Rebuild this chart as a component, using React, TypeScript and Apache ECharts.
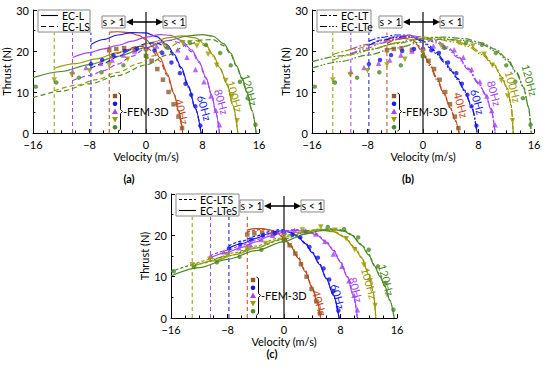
import React, { useEffect, useRef } from "react";
import * as echarts from "echarts";

// ---------- axes / categories ----------
const velocityTicks = [-16, -8, 0, 8, 16];
const thrustTicks = [0, 10, 20, 30];
const frequencies = ["40Hz", "60Hz", "80Hz", "100Hz", "120Hz"];
const syncSpeeds = [5.2, 7.8, 10.4, 13, 15.6];
const lineColors = ["#C4461C", "#1717E8", "#A445EE", "#9A9A00", "#4C8A28"];
const markerColors = ["#8E5A2A", "#1717E8", "#A445EE", "#9A9A00", "#4C8A28"];
const panelLetters = ["(a)", "(b)", "(c)"];
const legendNames = [["EC-L", "EC-LS"], ["EC-LT", "EC-LTe"], ["EC-LTS", "EC-LTeS"]];

// ---------- FEM-3D points (velocity m/s, thrust N) ----------
const fem40 = [[-5.2, 20.2], [-4.2, 20.5], [-3.1, 20.7], [-1.6, 20.3], [0, 18.8], [0.8, 17.6], [1.6, 15.6], [2.4, 13], [3.2, 10], [3.9, 7], [4.6, 4], [5.1, 1.2]];
const fem60 = [[-7.8, 16.8], [-6.2, 17.8], [-4.6, 19], [-3, 20], [-1.3, 20.5], [0, 20.5], [1.2, 20.2], [2.3, 19.5], [3.6, 17.2], [4.8, 14.6], [5.6, 12], [6.4, 9.3], [7, 6.5], [7.7, 1.8]];
const fem80 = [[-10.4, 15], [-8.5, 16], [-6.4, 17], [-4.8, 17.8], [-3.2, 19], [-1.6, 20], [0, 20.8], [1.5, 21.2], [3, 21.1], [4.5, 20.3], [5.8, 18.5], [7, 15.5], [8.2, 12.5], [9.2, 9], [9.9, 5.5], [10.4, 2]];
const fem100 = [[-13, 12.9], [-10.5, 14.2], [-8, 15.2], [-5.2, 16.6], [-2.6, 18], [0, 19.8], [2.6, 21.3], [5.2, 22], [7.2, 21.2], [8.8, 19.2], [10, 16.5], [11.3, 12.8], [12.2, 9], [12.9, 3]];
const fem120 = [[-15.6, 11.3], [-12.7, 12.3], [-9.5, 13.5], [-6.3, 14.8], [-3.2, 16.5], [0, 18.8], [3.1, 20.8], [6.2, 22], [8.5, 21.5], [10.5, 19.5], [12, 16.5], [13.3, 12.5], [14.4, 8.5], [15.5, 2]];

// ---------- (a) EC-L (solid) ----------
const aL40 = [[-5.2, 24.6], [-4, 24.7], [-2.5, 24.5], [-1, 23.8], [0, 22.8], [1, 21], [2, 18.3], [3, 14.5], [4, 9.5], [4.6, 5.5], [5.2, 0]];
const aL60 = [[-7.8, 21.6], [-6, 22.8], [-4, 23.9], [-2, 24.5], [0, 24.4], [1.5, 23.5], [3, 21.5], [4, 19.2], [5, 16], [6, 11.5], [7, 6], [7.8, 0]];
const aL80 = [[-10.4, 18.4], [-8, 19.6], [-6, 20.5], [-4, 21.4], [-2, 22.4], [0, 23.4], [2, 24], [3.5, 23.8], [5, 22.6], [6.5, 20.2], [7.5, 17.5], [8.5, 13.5], [9.3, 9.3], [9.9, 5], [10.4, 0]];
const aL100 = [[-13, 15.8], [-10, 16.9], [-7, 18.1], [-4, 19.6], [-1, 21.1], [1, 22.2], [3, 23.2], [5, 23.7], [7, 23.2], [8.5, 21.5], [9.5, 19], [10.5, 15.8], [11.5, 11.8], [12.3, 6.8], [13, 0]];
const aL120 = [[-16, 13.5], [-12, 15], [-8, 16.7], [-4, 18.7], [0, 20.8], [3, 22.5], [6, 23.7], [8, 24], [9.5, 23.6], [11, 21.8], [12, 19.5], [12.8, 16.5], [13.6, 13.3], [14.3, 10], [15, 5.5], [15.6, 0]];
// ---------- (a) EC-LS (dashed) ----------
const aLS40 = [[-5.2, 18.5], [-4, 19.4], [-3, 20.1], [-2, 20.8], [-1, 21.2], [0, 21], [1, 19.8], [2, 17.5], [3, 14], [4, 9.3], [4.6, 5.3], [5.2, 0]];
const aLS60 = [[-7.8, 15.8], [-6, 17], [-4, 18.6], [-2, 20.4], [0, 21.8], [1.5, 22], [3, 20.8], [4, 18.8], [5, 15.7], [6, 11.2], [7, 5.9], [7.8, 0]];
const aLS80 = [[-10.4, 12.8], [-8, 14], [-6, 15.2], [-4, 16.8], [-2, 18.7], [0, 20.7], [2, 22.2], [3.5, 22.6], [5, 21.9], [6.5, 19.8], [7.5, 17.2], [8.5, 13.3], [9.3, 9.2], [9.9, 5], [10.4, 0]];
const aLS100 = [[-13, 10.3], [-10, 11.6], [-7, 13], [-4, 14.8], [-1, 17], [1, 18.8], [3, 20.8], [5, 22.3], [7, 22.6], [8.5, 21.2], [9.5, 18.8], [10.5, 15.6], [11.5, 11.7], [12.3, 6.7], [13, 0]];
const aLS120 = [[-16, 8.6], [-12, 10.2], [-8, 12], [-4, 14], [0, 16.6], [3, 19], [6, 21.6], [8, 22.7], [9.5, 22.8], [11, 21.3], [12, 19.2], [12.8, 16.3], [13.6, 13.2], [14.3, 9.9], [15, 5.5], [15.6, 0]];

// ---------- (b) EC-LT (dash-dot) ----------
const bLT40 = [[-5.2, 22.7], [-4, 23.3], [-3, 23.6], [-2, 23.3], [-1, 22.1], [0, 19.8], [1, 16.8], [2, 13.4], [3, 9.8], [4, 6], [4.7, 3], [5.2, 0]];
const bLT60 = [[-7.8, 22.4], [-6, 23.3], [-4, 23.9], [-2, 23.9], [-1, 23.4], [0, 22.5], [1, 21.2], [2, 19.6], [3, 17.7], [4, 15.6], [5, 13.3], [6, 10.4], [7, 6.6], [7.8, 0]];
const bLT80 = [[-10.4, 20.4], [-8, 21.6], [-6, 22.7], [-4, 23.5], [-2, 23.8], [0, 23.4], [2, 22.4], [3.5, 21], [5, 18.8], [6.5, 15.8], [8, 12.3], [9, 9.5], [9.8, 6], [10.4, 0]];
const bLT100 = [[-13, 19.1], [-10, 20.4], [-7, 21.7], [-4, 22.8], [-1, 23.4], [2, 23.3], [4.5, 22.6], [6.5, 21.5], [8.5, 19.5], [10.3, 16.6], [11.4, 13.6], [12.2, 10.8], [12.7, 7], [13, 0]];
const bLT120 = [[-16, 17.4], [-12, 18.8], [-8, 20.2], [-4, 21.8], [0, 23], [3, 23.4], [6, 23], [8.5, 22], [10.5, 20.4], [12.2, 18], [13.5, 14.8], [14.5, 11.2], [15.2, 6.5], [15.6, 0]];
// ---------- (b) EC-LTe (dash-dot-dot) ----------
const bLTe40 = [[-5.2, 21.8], [-4, 22.7], [-3, 23.1], [-2, 22.9], [-1, 21.7], [0, 19.4], [1, 16.4], [2, 13], [3, 9.5], [4, 5.8], [4.7, 2.9], [5.2, 0]];
const bLTe60 = [[-7.8, 21.4], [-6, 22.5], [-4, 23.3], [-2, 23.5], [-1, 23], [0, 22.1], [1, 20.8], [2, 19.2], [3, 17.3], [4, 15.2], [5, 13], [6, 10.1], [7, 6.4], [7.8, 0]];
const bLTe80 = [[-10.4, 19.3], [-8, 20.7], [-6, 21.9], [-4, 22.9], [-2, 23.4], [0, 23], [2, 22], [3.5, 20.6], [5, 18.4], [6.5, 15.5], [8, 12], [9, 9.3], [9.8, 5.8], [10.4, 0]];
const bLTe100 = [[-13, 17.8], [-10, 19.2], [-7, 20.6], [-4, 22], [-1, 22.9], [2, 22.9], [4.5, 22.2], [6.5, 21.1], [8.5, 19.1], [10.3, 16.3], [11.4, 13.3], [12.2, 10.5], [12.7, 6.8], [13, 0]];
const bLTe120 = [[-16, 15.8], [-12, 17.4], [-8, 19], [-4, 20.7], [0, 22.2], [3, 22.9], [6, 22.6], [8.5, 21.6], [10.5, 20], [12.2, 17.6], [13.5, 14.5], [14.5, 11], [15.2, 6.3], [15.6, 0]];

// ---------- (c) EC-LTS (short dash) ----------
const cLTS40 = [[-5.2, 20.8], [-4, 21.3], [-3, 21.5], [-2, 21.3], [-1, 20.7], [0, 19.5], [1, 17.5], [2, 14.8], [3, 11.5], [4, 7.5], [4.7, 4], [5.2, 0]];
const cLTS60 = [[-7.8, 17.5], [-6, 18.6], [-4, 19.8], [-2, 20.9], [-1, 21.3], [0, 21.3], [1, 20.8], [2, 19.8], [3, 18.2], [4, 16], [5, 13.2], [6, 9.7], [7, 5.6], [7.8, 0]];
const cLTS80 = [[-10.4, 15.1], [-8, 16.4], [-6, 17.6], [-4, 18.9], [-2, 20.2], [0, 21.1], [1.5, 21.4], [3, 21.2], [4.5, 20.4], [6, 18.5], [7, 16.5], [8, 13.7], [9, 10], [9.8, 5.6], [10.4, 0]];
const cLTS100 = [[-13, 12.9], [-10, 14.3], [-7, 15.8], [-4, 17.4], [-1, 19.2], [1, 20.2], [3, 21.1], [5, 21.5], [7, 21.1], [8.5, 19.8], [10, 17.2], [11, 14.7], [12, 10.7], [12.6, 6.6], [13, 0]];
const cLTS120 = [[-16, 11.2], [-12, 13.1], [-8, 15], [-4, 17], [0, 19.1], [3, 20.7], [5, 21.4], [7, 21.6], [8.5, 21.2], [9.5, 20.3], [11, 17.8], [12, 15.4], [12.8, 12.8], [13.6, 10.2], [14.3, 7.7], [15, 4.3], [15.6, 0]];
// ---------- (c) EC-LTeS (solid) ----------
const cLTeS40 = [[-5.2, 21.3], [-4, 21.6], [-3, 21.6], [-2, 21.3], [-1, 20.6], [0, 19.3], [1, 17.2], [2, 14.5], [3, 11.2], [4, 7.2], [4.7, 3.8], [5.2, 0]];
const cLTeS60 = [[-7.8, 16.9], [-6, 18], [-4, 19.3], [-2, 20.5], [-1, 21], [0, 21.1], [1, 20.6], [2, 19.6], [3, 18], [4, 15.8], [5, 13], [6, 9.5], [7, 5.5], [7.8, 0]];
const cLTeS80 = [[-10.4, 14.6], [-8, 15.9], [-6, 17.1], [-4, 18.4], [-2, 19.8], [0, 20.8], [1.5, 21.2], [3, 21], [4.5, 20.2], [6, 18.3], [7, 16.3], [8, 13.5], [9, 9.8], [9.8, 5.5], [10.4, 0]];
const cLTeS100 = [[-13, 12.4], [-10, 13.8], [-7, 15.3], [-4, 16.9], [-1, 18.8], [1, 19.9], [3, 20.9], [5, 21.3], [7, 20.9], [8.5, 19.6], [10, 17], [11, 14.5], [12, 10.5], [12.6, 6.5], [13, 0]];
const cLTeS120 = [[-16, 10.2], [-12, 12.2], [-8, 14.2], [-4, 16.3], [0, 18.5], [3, 20.3], [5, 21.1], [7, 21.4], [8.5, 21], [9.5, 20.1], [11, 17.6], [12, 15.2], [12.8, 12.6], [13.6, 10], [14.3, 7.6], [15, 4.2], [15.6, 0]];

// ---------- annotation anchors (data coordinates) ----------
const freqLabelAnchors = [
  [[5.1, 5.2], [8.3, 6.1], [10.7, 7.6], [12.6, 8.9], [14.7, 10.5]],
  [[5.5, 6.8], [7.9, 7.6], [10.3, 9.7], [13.0, 11.3], [15.4, 12.9]],
  [[5.05, 3.6], [7.65, 5.2], [10.2, 6.8], [12.1, 8.4], [14.5, 9.2]],
];
const guideTop = 24.5;
const zeroLineTop = 29.5;

const femSets = [fem40, fem60, fem80, fem100, fem120];
const panelModels = [
  [
    { data: [aL40, aL60, aL80, aL100, aL120], dash: "solid" as any },
    { data: [aLS40, aLS60, aLS80, aLS100, aLS120], dash: [5, 3] as any },
  ],
  [
    { data: [bLT40, bLT60, bLT80, bLT100, bLT120], dash: [7, 2, 2, 2] as any },
    { data: [bLTe40, bLTe60, bLTe80, bLTe100, bLTe120], dash: [7, 2, 1.6, 1.6, 1.6, 2] as any },
  ],
  [
    { data: [cLTS40, cLTS60, cLTS80, cLTS100, cLTS120], dash: [3, 2] as any },
    { data: [cLTeS40, cLTeS60, cLTeS80, cLTeS100, cLTeS120], dash: "solid" as any },
  ],
];

// ---------- layout ----------
const GRIDS = [
  { left: 33, top: 10, width: 226, height: 123 },
  { left: 312, top: 10, width: 222, height: 123 },
  { left: 171, top: 194, width: 226, height: 124 },
];
const legendWidths = [52, 54, 63];
const panelLabelPos = [[129, 178], [408, 178], [272, 353]];
const FONT = "Lato, 'Open Sans', 'DejaVu Sans', sans-serif";
const femSymbols = ["rect", "circle", "triangle", "triangle", "circle"];
const femRotate = [0, 0, 0, 180, 0];
const femSizes = [4.5, 4.5, 5.5, 5.5, 4.5];

const fmt = (v: number) => (v < 0 ? "\u2212" + Math.abs(v) : String(v));

function px(g: any, v: number) {
  return g.left + ((v + 16) / 32) * g.width;
}
function py(g: any, t: number) {
  return g.top + ((30 - t) / 30) * g.height;
}

function markerGraphic(i: number, cx: number, cy: number) {
  const color = markerColors[i];
  if (i === 0) return { type: "rect", shape: { x: cx - 2.2, y: cy - 2.2, width: 4.4, height: 4.4 }, style: { fill: color }, silent: true };
  if (i === 2)
    return { type: "polygon", shape: { points: [[cx, cy - 3], [cx - 3, cy + 2.4], [cx + 3, cy + 2.4]] }, style: { fill: color }, silent: true };
  if (i === 3)
    return { type: "polygon", shape: { points: [[cx, cy + 3], [cx - 3, cy - 2.4], [cx + 3, cy - 2.4]] }, style: { fill: color }, silent: true };
  return { type: "circle", shape: { cx, cy, r: 2.3 }, style: { fill: color }, silent: true };
}

function buildOption() {
  const grid = GRIDS.map((g) => ({ ...g, containLabel: false }));
  const xAxis = GRIDS.map((_, i) => ({
    gridIndex: i,
    type: "value",
    min: velocityTicks[0],
    max: velocityTicks[velocityTicks.length - 1],
    interval: 8,
    name: "Velocity (m/s)",
    nameLocation: "middle",
    nameGap: 17,
    nameTextStyle: { fontFamily: FONT, fontSize: 11, color: "#000" },
    axisLine: { show: true, onZero: false, lineStyle: { color: "#000", width: 1 } },
    axisTick: { show: true, inside: true, length: 4, lineStyle: { color: "#000" } },
    minorTick: { show: true, splitNumber: 4, length: 2.5, lineStyle: { color: "#000" } },
    splitLine: { show: false },
    axisLabel: { fontFamily: FONT, fontSize: 11, lineHeight: 11, color: "#000", margin: 6, formatter: (v: number) => fmt(v) },
  }));
  const yAxis = GRIDS.map((_, i) => ({
    gridIndex: i,
    type: "value",
    min: thrustTicks[0],
    max: thrustTicks[thrustTicks.length - 1],
    interval: 10,
    name: "Thrust (N)",
    nameLocation: "middle",
    nameGap: 17,
    nameTextStyle: { fontFamily: FONT, fontSize: 11, color: "#000" },
    axisLine: { show: true, onZero: false, lineStyle: { color: "#000", width: 1 } },
    axisTick: { show: true, inside: true, length: 4, lineStyle: { color: "#000" } },
    minorTick: { show: true, splitNumber: 2, length: 2.5, lineStyle: { color: "#000" } },
    splitLine: { show: false },
    axisLabel: { fontFamily: FONT, fontSize: 11, lineHeight: 11, color: "#000", margin: 4 },
  }));

  const series: any[] = [];
  const graphic: any[] = [];

  GRIDS.forEach((g, gi) => {
    // guide lines at s = 2
    for (let k = 0; k < 4; k++) {
      series.push({
        type: "line",
        xAxisIndex: gi,
        yAxisIndex: gi,
        data: [[-syncSpeeds[k], 0], [-syncSpeeds[k], guideTop]],
        symbol: "none",
        silent: true,
        lineStyle: { color: lineColors[k], width: 1, type: [4, 3] },
        z: 1,
      });
    }
    // zero line
    series.push({
      type: "line",
      xAxisIndex: gi,
      yAxisIndex: gi,
      data: [[0, 0], [0, zeroLineTop]],
      symbol: "none",
      silent: true,
      lineStyle: { color: "#333", width: 1.4 },
      z: 1,
    });
    // model curves
    panelModels[gi].forEach((m) => {
      m.data.forEach((d: number[][], k: number) => {
        series.push({
          type: "line",
          xAxisIndex: gi,
          yAxisIndex: gi,
          data: d,
          symbol: "none",
          smooth: 0.3,
          smoothMonotone: "x",
          silent: true,
          lineStyle: { color: lineColors[k], width: 1.2, type: m.dash },
          z: 3,
        });
      });
    });
    // FEM points
    femSets.forEach((d, k) => {
      series.push({
        type: "scatter",
        xAxisIndex: gi,
        yAxisIndex: gi,
        data: d,
        symbol: femSymbols[k],
        symbolRotate: femRotate[k],
        symbolSize: femSizes[k],
        silent: true,
        itemStyle: { color: markerColors[k] },
        z: 4,
      });
    });

    // ---- graphics ----
    // legend box
    const lx = g.left + 5;
    const ly = g.top;
    graphic.push({
      type: "rect",
      shape: { x: lx, y: ly, width: legendWidths[gi], height: 22 },
      style: { fill: "#fff", stroke: "#888", lineWidth: 1 },
      z: 10,
      silent: true,
    });
    legendNames[gi].forEach((nm, r) => {
      const yy = ly + 5.5 + r * 11;
      graphic.push({
        type: "line",
        shape: { x1: g.left + 8, y1: yy, x2: g.left + 25, y2: yy },
        style: { stroke: "#000", lineWidth: 1.1, lineDash: panelModels[gi][r].dash === "solid" ? null : panelModels[gi][r].dash },
        z: 11,
        silent: true,
      });
      graphic.push({
        type: "text",
        x: g.left + 29,
        y: yy,
        style: { text: nm, fill: "#000", font: `10.5px ${FONT}`, align: "left", verticalAlign: "middle" },
        z: 11,
        silent: true,
      });
    });

    // s > 1 / s < 1 annotation
    const x0 = px(g, 0);
    const ay = g.top + 12;
    graphic.push({
      type: "rect",
      shape: { x: x0 - 44, y: ay - 6, width: 23, height: 12 },
      style: { fill: "#fff", stroke: "#888", lineWidth: 1 },
      z: 10,
      silent: true,
    });
    graphic.push({
      type: "text",
      x: x0 - 32.5,
      y: ay,
      style: { text: "s > 1", fill: "#000", font: `10.5px ${FONT}`, align: "center", verticalAlign: "middle" },
      z: 11,
      silent: true,
    });
    graphic.push({
      type: "rect",
      shape: { x: x0 + 17, y: ay - 6, width: 23, height: 12 },
      style: { fill: "#fff", stroke: "#888", lineWidth: 1 },
      z: 10,
      silent: true,
    });
    graphic.push({
      type: "text",
      x: x0 + 28.5,
      y: ay,
      style: { text: "s < 1", fill: "#000", font: `10.5px ${FONT}`, align: "center", verticalAlign: "middle" },
      z: 11,
      silent: true,
    });
    graphic.push({
      type: "line",
      shape: { x1: x0 - 15, y1: ay, x2: x0 + 12, y2: ay },
      style: { stroke: "#000", lineWidth: 1.5 },
      z: 11,
      silent: true,
    });
    graphic.push({
      type: "polygon",
      shape: { points: [[x0 - 20, ay], [x0 - 13, ay - 3.5], [x0 - 13, ay + 3.5]] },
      style: { fill: "#000" },
      z: 11,
      silent: true,
    });
    graphic.push({
      type: "polygon",
      shape: { points: [[x0 + 17, ay], [x0 + 10, ay - 3.5], [x0 + 10, ay + 3.5]] },
      style: { fill: "#000" },
      z: 11,
      silent: true,
    });

    // FEM-3D legend
    const mx = g.left + 82;
    for (let k = 0; k < 5; k++) {
      const m: any = markerGraphic(k, mx, g.top + 86 + k * 7.8);
      m.z = 11;
      graphic.push(m);
    }
    const bx = g.left + 87;
    const bt = g.top + 83;
    const bm = g.top + 101.5;
    const bb = g.top + 121;
    graphic.push({
      type: "polyline",
      shape: { points: [[bx - 1.5, bt], [bx + 0.5, bt + 1.5], [bx + 0.5, bm - 2], [bx + 2.5, bm], [bx + 0.5, bm + 2], [bx + 0.5, bb - 1.5], [bx - 1.5, bb]] },
      style: { stroke: "#000", lineWidth: 1, fill: null },
      z: 11,
      silent: true,
    });
    graphic.push({
      type: "text",
      x: bx + 3,
      y: bm,
      style: { text: "-FEM-3D", fill: "#000", font: `11px ${FONT}`, align: "left", verticalAlign: "middle" },
      z: 11,
      silent: true,
    });

    // frequency labels
    freqLabelAnchors[gi].forEach((a, k) => {
      graphic.push({
        type: "text",
        x: px(g, a[0]),
        y: py(g, a[1]),
        rotation: -1.3,
        style: { text: frequencies[k], fill: lineColors[k], font: `11px ${FONT}`, align: "center", verticalAlign: "middle" },
        z: 12,
        silent: true,
      });
    });

    // panel letter
    graphic.push({
      type: "text",
      x: panelLabelPos[gi][0],
      y: panelLabelPos[gi][1],
      style: { text: panelLetters[gi], fill: "#000", font: `bold 11px ${FONT}`, align: "center", verticalAlign: "middle" },
      silent: true,
    });
  });

  return {
    animation: false,
    backgroundColor: "#fff",
    grid,
    xAxis,
    yAxis,
    series,
    graphic,
  };
}

export default function App() {
  const ref = useRef<HTMLDivElement>(null);
  useEffect(() => {
    const chart = echarts.init(ref.current!, null, { renderer: "svg" });
    chart.setOption(buildOption() as any);
    return () => chart.dispose();
  }, []);
  return (
    <div
      ref={ref}
      style={{ position: "absolute", left: 0, top: 0, width: 550, height: 369, background: "#fff" }}
    />
  );
}
